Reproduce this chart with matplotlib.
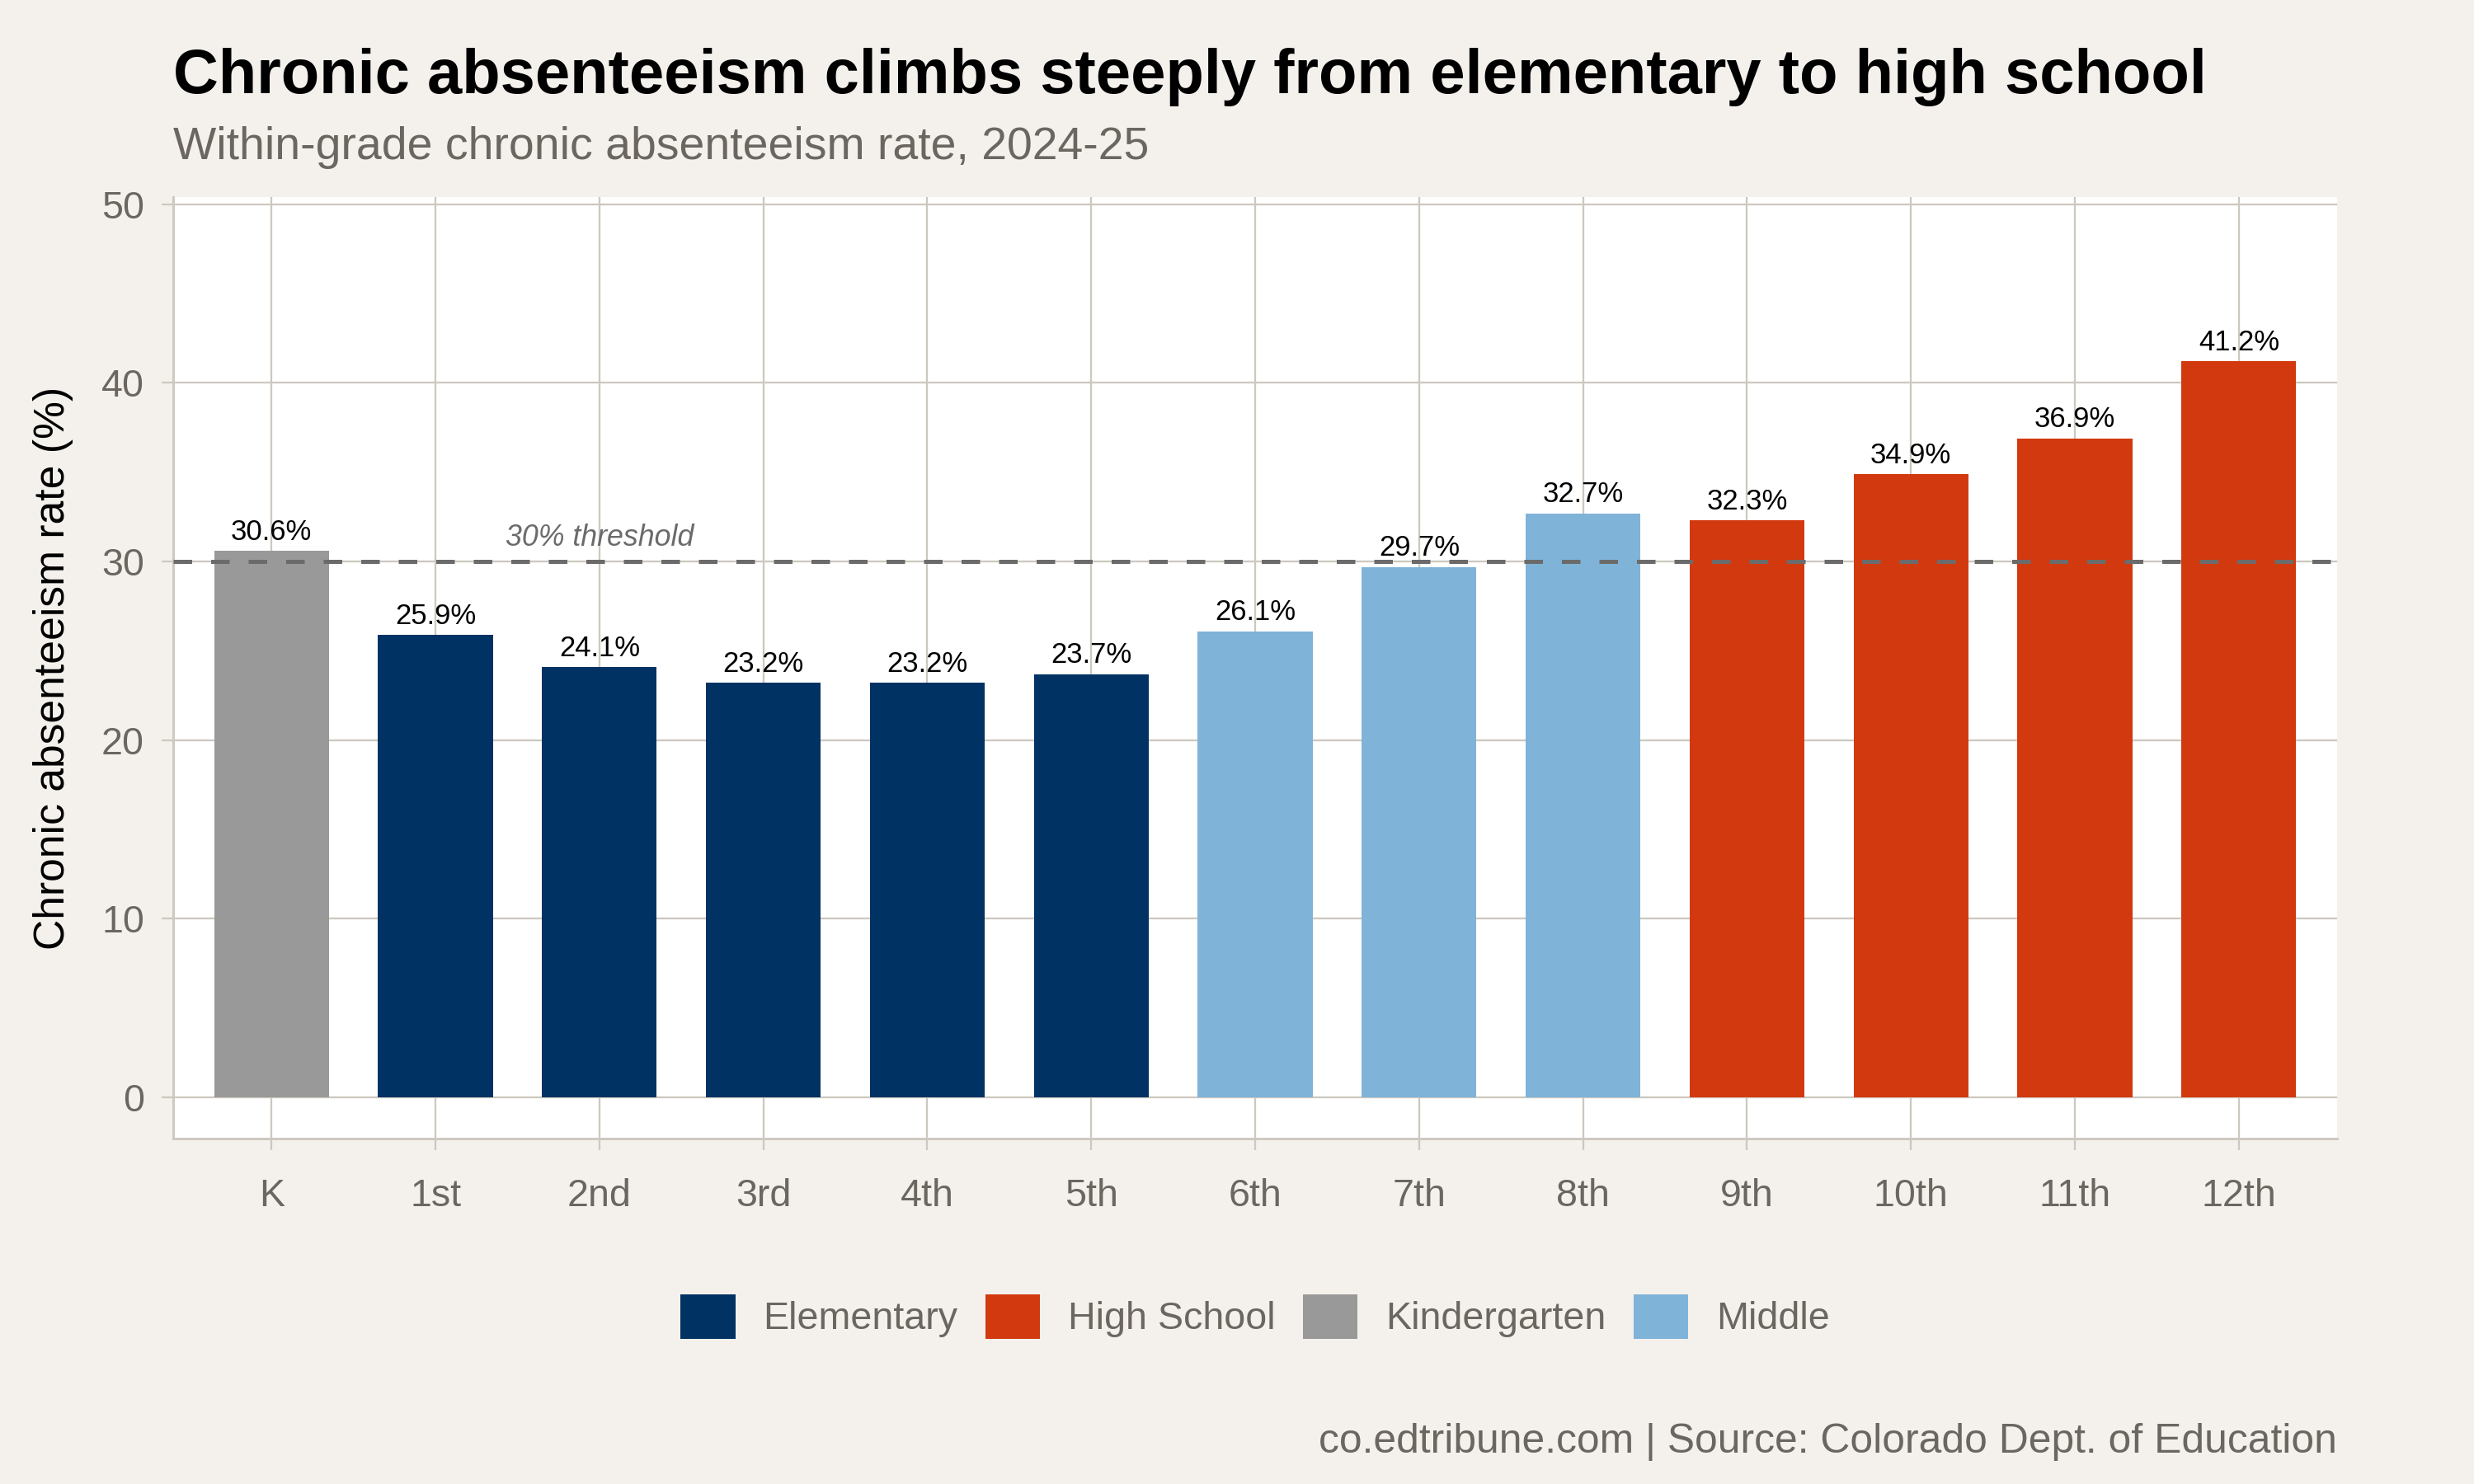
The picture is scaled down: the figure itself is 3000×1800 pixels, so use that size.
import matplotlib
matplotlib.use("Agg")
import matplotlib.pyplot as plt
from matplotlib.patches import Patch

plt.rcParams['font.family'] = ['Liberation Sans', 'DejaVu Sans']

grades = ["K", "1st", "2nd", "3rd", "4th", "5th", "6th", "7th", "8th", "9th", "10th", "11th", "12th"]
rates = [30.6, 25.9, 24.1, 23.2, 23.2, 23.7, 26.1, 29.7, 32.7, 32.3, 34.9, 36.9, 41.2]
levels = ["Kindergarten", "Elementary", "Elementary", "Elementary", "Elementary", "Elementary",
          "Middle", "Middle", "Middle", "High School", "High School", "High School", "High School"]
legend_order = ["Elementary", "High School", "Kindergarten", "Middle"]
level_colors = {"Elementary": "#003263", "High School": "#D3390F",
                "Kindergarten": "#999999", "Middle": "#80B3D8"}
threshold = 30
yticks = [0, 10, 20, 30, 40, 50]

BG = "#F4F1EC"
GRID = "#CDC8C0"
TXT = "#6B6660"

fig = plt.figure(figsize=(10, 6), dpi=300, facecolor=BG)
ax = fig.add_axes([0.07, 0.2328, 0.8747, 0.6344])
ax.set_facecolor("white")

x = list(range(len(grades)))
ax.bar(x, rates, width=0.7, color=[level_colors[l] for l in levels], zorder=3)

for xi, v in zip(x, rates):
    ax.annotate(f"{v}%", (xi, v), xytext=(0, 3.2), textcoords="offset points",
                ha="center", va="baseline", fontsize=8.3, color="black", zorder=5)

ax.axhline(threshold, color="#6B6B6B", lw=1.2, linestyle=(0, (4.5, 4.6)), zorder=4)
ax.text(2, threshold + 1.3, "30% threshold", ha="center", va="center",
        fontsize=8.6, style="italic", color="#6B6B6B", zorder=5)

ax.set_xlim(-0.6, 12.6)
ax.set_ylim(-2.3, 50.4)
ax.set_xticks(x)
ax.set_xticklabels(grades)
ax.set_yticks(yticks)
ax.grid(True, color=GRID, lw=0.55, zorder=0)
ax.set_axisbelow(True)
for s in ["top", "right"]:
    ax.spines[s].set_visible(False)
for s in ["left", "bottom"]:
    ax.spines[s].set_color(GRID)
    ax.spines[s].set_linewidth(0.7)
ax.tick_params(axis="both", colors=GRID, length=3.4, width=0.55, labelsize=11.2,
               labelcolor=TXT, pad=5)
ax.tick_params(axis="x", pad=8.2)

ax.set_ylabel("Chronic absenteeism rate (%)", fontsize=12.4, color="black")
ax.yaxis.set_label_coords(-0.046, 0.5)

fig.text(0.07, 0.937, "Chronic absenteeism climbs steeply from elementary to high school",
         fontsize=18.25, fontweight="bold", color="black", ha="left", va="baseline")
fig.text(0.07, 0.893, "Within-grade chronic absenteeism rate, 2024-25",
         fontsize=13.3, color=TXT, ha="left", va="baseline")
fig.text(0.9447, 0.021, "co.edtribune.com | Source: Colorado Dept. of Education",
         fontsize=11.95, color=TXT, ha="right", va="baseline")

handles = [Patch(facecolor=level_colors[l], edgecolor="none", label=l) for l in legend_order]
leg = fig.legend(handles=handles, loc="center", bbox_to_anchor=(0.5073, 0.1128), ncol=4,
                 frameon=False, fontsize=11.2, handlelength=1.42, handleheight=1.42,
                 handletextpad=0.72, columnspacing=0.72, labelcolor=TXT)

fig.savefig("out.png", dpi=300, facecolor=BG)
